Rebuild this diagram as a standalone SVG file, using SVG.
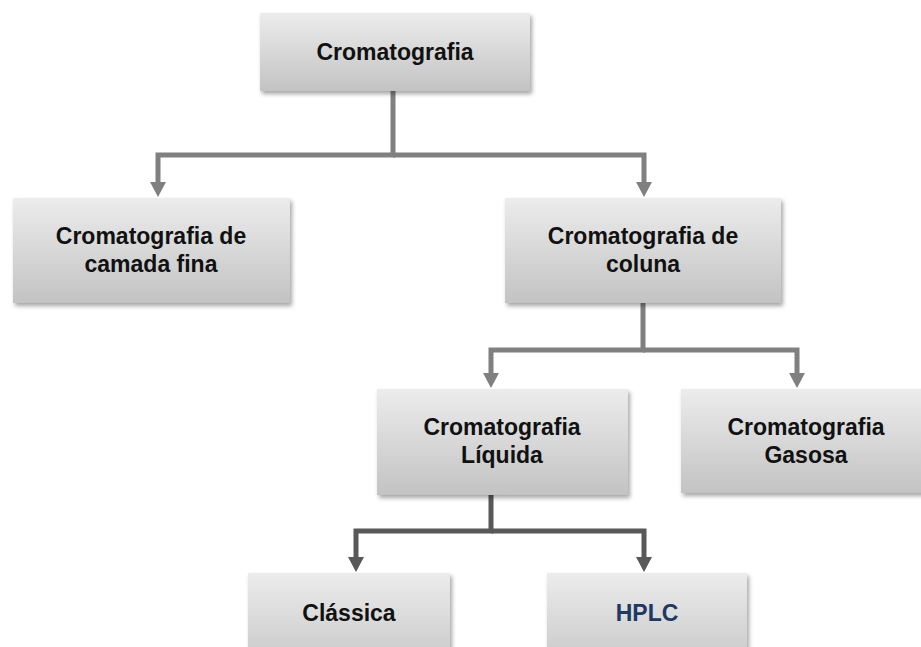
<svg xmlns="http://www.w3.org/2000/svg" width="921" height="647" viewBox="0 0 921 647">
<defs>
<linearGradient id="g" x1="0" y1="0" x2="0" y2="1">
<stop offset="0" stop-color="#ececec"/>
<stop offset="1" stop-color="#c3c3c3"/>
</linearGradient>
<filter id="sh" x="-10%" y="-10%" width="120%" height="130%">
<feDropShadow dx="2" dy="3" stdDeviation="2" flood-color="#000" flood-opacity="0.35"/>
</filter>
<marker id="al" markerUnits="userSpaceOnUse" viewBox="0 0 15 16" refX="0" refY="8" markerWidth="15" markerHeight="16" orient="auto">
<path d="M0,0 L15,8 L0,16 z" fill="#808080"/>
</marker>
<marker id="ad" markerUnits="userSpaceOnUse" viewBox="0 0 15 16" refX="0" refY="8" markerWidth="15" markerHeight="16" orient="auto">
<path d="M0,0 L15,8 L0,16 z" fill="#595959"/>
</marker>
</defs>
<style>
.box{fill:url(#g);filter:url(#sh)}
.t{font-family:"Liberation Sans",Arial,sans-serif;font-weight:bold;font-size:23px;fill:#111;text-anchor:middle}
.cl{fill:none;stroke:#808080;stroke-width:5;stroke-linejoin:miter;marker-end:url(#al)}
.cd{fill:none;stroke:#595959;stroke-width:5;stroke-linejoin:miter;marker-end:url(#ad)}
</style>
<g id="connectors">
<path class="cl" d="M393,91 V155 H158 V182"/>
<path class="cl" d="M393,155 H644 V182"/>
<path class="cl" d="M643,303 V350 H491 V373"/>
<path class="cl" d="M643,350 H797 V373"/>
<path class="cd" d="M491,495 V531 H356 V557"/>
<path class="cd" d="M491,531 H644 V557"/>
</g>
<g id="n1">
<rect class="box" x="260" y="13" width="270" height="78"/>
<text class="t" x="395" y="60">Cromatografia</text>
</g>
<g id="n2">
<rect class="box" x="13" y="198" width="277" height="105"/>
<text class="t" x="151" y="244">Cromatografia de</text>
<text class="t" x="151" y="272">camada fina</text>
</g>
<g id="n3">
<rect class="box" x="505" y="198" width="276" height="105"/>
<text class="t" x="643" y="244">Cromatografia de</text>
<text class="t" x="643" y="272">coluna</text>
</g>
<g id="n4">
<rect class="box" x="377" y="389" width="251" height="106"/>
<text class="t" x="502" y="435">Cromatografia</text>
<text class="t" x="502" y="463">Líquida</text>
</g>
<g id="n5">
<rect class="box" x="681" y="389" width="250" height="104"/>
<text class="t" x="806" y="435">Cromatografia</text>
<text class="t" x="806" y="463">Gasosa</text>
</g>
<g id="n6">
<rect class="box" x="248" y="573" width="202" height="105"/>
<text class="t" x="349" y="621">Clássica</text>
</g>
<g id="n7">
<rect class="box" x="547" y="573" width="200" height="105"/>
<text class="t" x="647" y="621" style="fill:#1f3864">HPLC</text>
</g>
</svg>
